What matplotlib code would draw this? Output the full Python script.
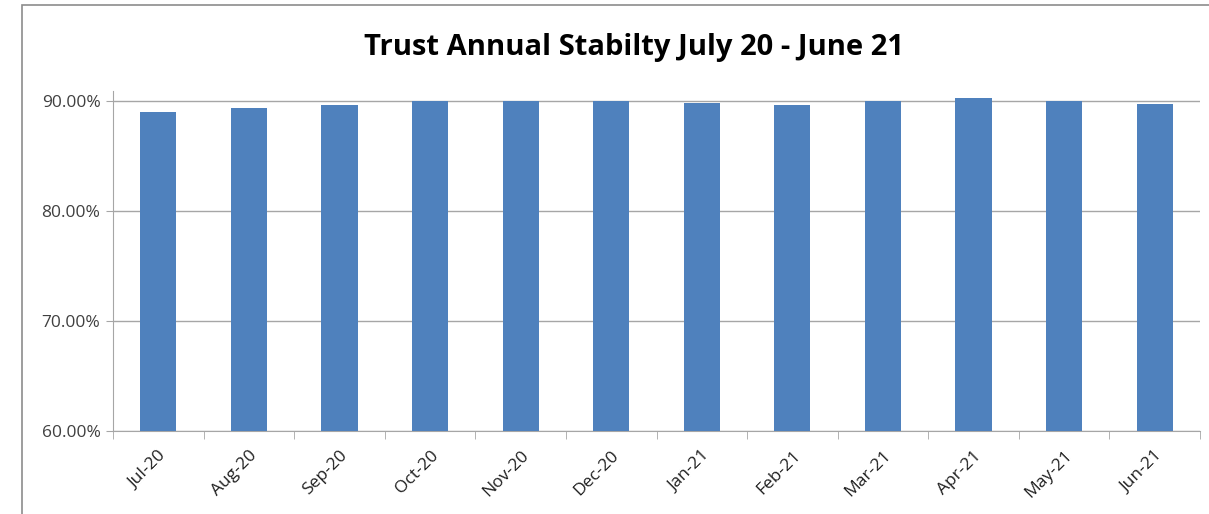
import numpy as np
import matplotlib
matplotlib.use("Agg")
import matplotlib.pyplot as plt
from matplotlib.patches import Rectangle
from matplotlib.ticker import FuncFormatter, FixedLocator

months = ["Jul-20", "Aug-20", "Sep-20", "Oct-20", "Nov-20", "Dec-20",
          "Jan-21", "Feb-21", "Mar-21", "Apr-21", "May-21", "Jun-21"]
stability = [0.890, 0.8937, 0.896, 0.900, 0.900, 0.900,
             0.898, 0.896, 0.900, 0.9025, 0.900, 0.897]
y_ticks = [0.6, 0.7, 0.8, 0.9]

plt.rcParams['font.family'] = ['Open Sans', 'DejaVu Sans']

fig = plt.figure(figsize=(12.09, 5.14), dpi=100)
# outer chart frame
fig.patches.append(Rectangle((22 / 1209, -0.01), 1.2, 1 - 5 / 514 + 0.01,
                             transform=fig.transFigure, fill=False,
                             edgecolor="#8c8c8c", linewidth=1.2))

ax = fig.add_axes([113 / 1209, 1 - 431 / 514, (1200 - 113) / 1209, (431 - 91) / 514])
x = np.arange(len(months))
ax.bar(x, stability, width=0.4, color="#4f81bd", zorder=3)

ax.set_ylim(0.6, 0.909)
ax.set_xlim(-0.5, len(months) - 0.5)
ax.yaxis.set_major_locator(FixedLocator(y_ticks))
ax.yaxis.set_major_formatter(FuncFormatter(lambda v, p: f"{v * 100:.2f}%"))
ax.grid(axis="y", color="#a6a6a6", linewidth=1, zorder=0)

ax.set_xticks(x)
ax.set_xticklabels(months, rotation=45, ha="right", rotation_mode="anchor",
                   fontsize=12.5, color="#202020")
ax.xaxis.set_minor_locator(FixedLocator(np.arange(-0.5, len(months), 1)))
ax.tick_params(axis="x", which="major", length=0, pad=12)
ax.tick_params(axis="x", which="minor", length=6, color="#a6a6a6")
ax.tick_params(axis="y", length=5, color="#a6a6a6", labelsize=12.5,
               labelcolor="#404040", pad=4)

for s in ["top", "right"]:
    ax.spines[s].set_visible(False)
ax.spines["left"].set_color("#a6a6a6")
ax.spines["bottom"].set_color("#a6a6a6")

fig.text(634 / 1209, 1 - 47 / 514, "Trust Annual Stabilty July 20 - June 21",
         ha="center", va="center", fontsize=21, fontweight="bold")

fig.savefig("out.png", dpi=100)
